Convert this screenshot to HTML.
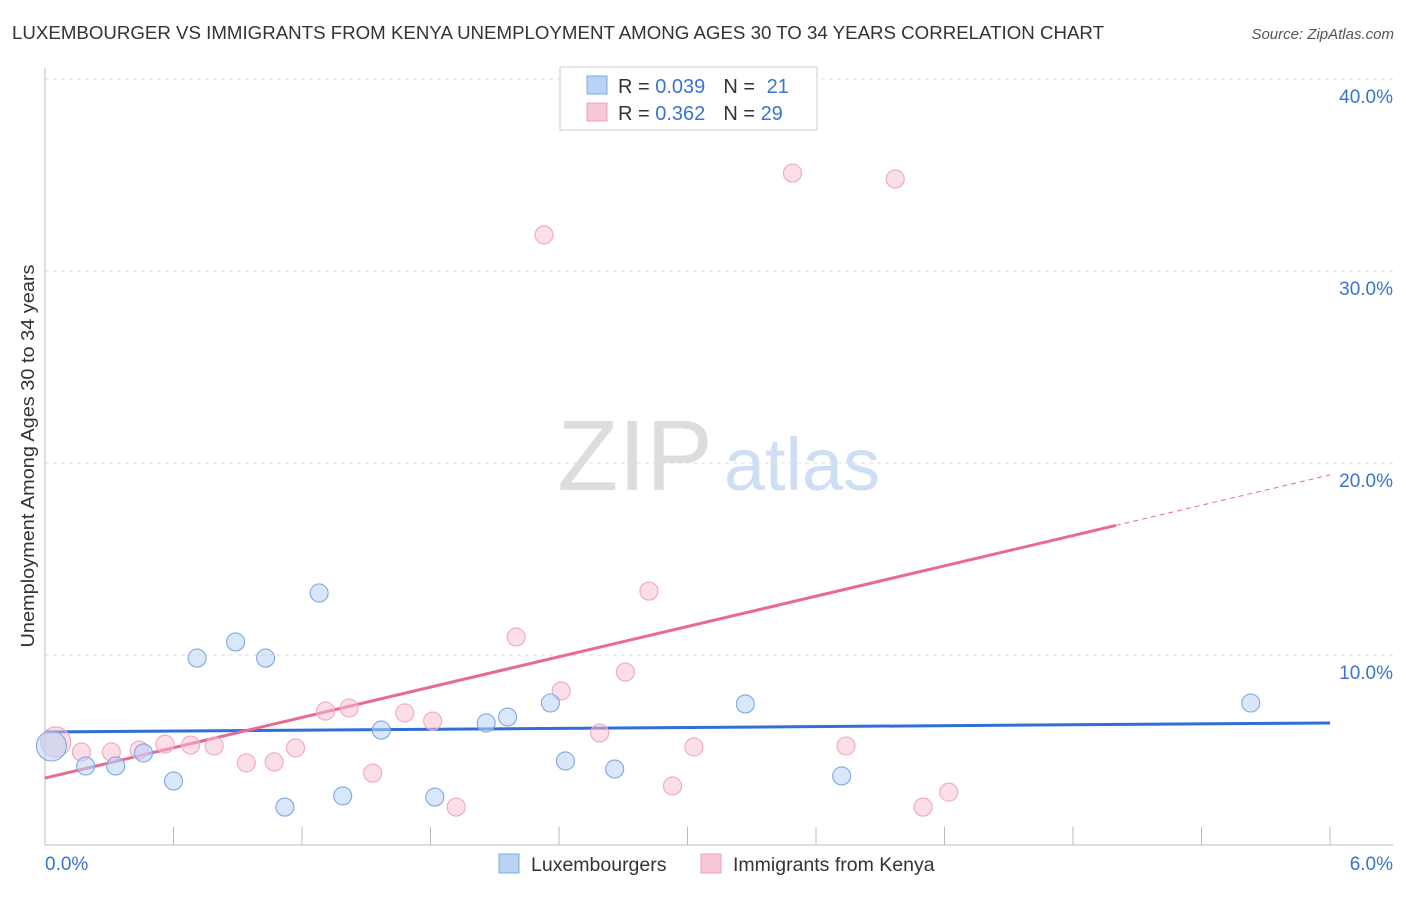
<!DOCTYPE html>
<html><head><meta charset="utf-8"><style>
body{margin:0;background:#fff;font-family:"Liberation Sans",sans-serif;}
svg text{font-family:"Liberation Sans",sans-serif;}
</style></head><body>
<svg id="chart" width="1406" height="892">
<text x="12" y="39" font-size="18.5" fill="#333" textLength="1092" lengthAdjust="spacingAndGlyphs">LUXEMBOURGER VS IMMIGRANTS FROM KENYA UNEMPLOYMENT AMONG AGES 30 TO 34 YEARS CORRELATION CHART</text>
<text x="1394" y="39" font-size="15" fill="#555" font-style="italic" text-anchor="end">Source: ZipAtlas.com</text>
<text x="34" y="456" font-size="18" fill="#333" text-anchor="middle" textLength="383" lengthAdjust="spacingAndGlyphs" transform="rotate(-90 34 456)">Unemployment Among Ages 30 to 34 years</text>
<g><text x="635" y="490" font-size="100" fill="#ddd" font-family="Liberation Serif" text-anchor="middle">ZIP</text><text x="802" y="490" font-size="74" fill="#cfdff3" text-anchor="middle">atlas</text></g>
<g id="grid"></g><g id="axes"></g><g id="lines"></g><g id="points"></g>
<g>
<rect x="560" y="67" width="257" height="63" fill="#fff" stroke="#ccc"/>
<rect x="587" y="76" width="20" height="18" fill="#b8d3f5" stroke="#7fa9e0"/>
<rect x="587" y="103" width="20" height="18" fill="#f9c8d6" stroke="#eea0b8"/>
<text x="618" y="93" font-size="20" fill="#333">R = <tspan fill="#3a73d0">0.039</tspan><tspan dx="18">N = </tspan><tspan fill="#3a73d0" dx="6">21</tspan></text>
<text x="618" y="120" font-size="20" fill="#333">R = <tspan fill="#3a73d0"> 0.362</tspan><tspan dx="18">N = </tspan><tspan fill="#3a73d0">29</tspan></text>
</g>
<g>
<rect x="499" y="854" width="20" height="19" fill="#b8d3f5" stroke="#7fa9e0"/>
<text x="531" y="871" font-size="19.5" fill="#333">Luxembourgers</text>
<rect x="701" y="854" width="20" height="19" fill="#f9c8d6" stroke="#eea0b8"/>
<text x="733" y="871" font-size="19.5" fill="#333">Immigrants from Kenya</text>
</g>
</svg>
<script>
const blueX=[0.03,0.19,0.33,0.46,0.60,0.71,0.89,1.03,1.12,1.28,1.39,1.57,1.82,2.06,2.16,2.36,2.43,2.66,3.27,3.72,5.63];
const blueY=[5.26,4.22,4.22,4.90,3.44,9.84,10.68,9.84,2.08,13.23,2.66,6.09,2.60,6.46,6.77,7.50,4.48,4.06,7.45,3.70,7.50];
const pinkX=[0.05,0.17,0.31,0.44,0.56,0.68,0.79,0.94,1.07,1.17,1.31,1.42,1.53,1.68,1.81,1.92,2.20,2.33,2.41,2.59,2.71,2.82,2.93,3.03,3.49,3.74,3.97,4.10,4.22];
const pinkY=[5.47,4.95,4.95,5.05,5.36,5.31,5.26,4.38,4.43,5.16,7.08,7.24,3.85,6.98,6.56,2.08,10.94,31.88,8.13,5.94,9.11,13.33,3.18,5.21,35.10,5.26,34.79,2.08,2.86];
const blueLine=[5.99,6.46];
const pinkLine=[3.59,19.38];
const pinkSolidEnd=5.0;
const yTicks=[10,20,30,40];
const xTickLabels=["0.0%","6.0%"];
const NS="http://www.w3.org/2000/svg";
const sx=v=>45+v/6*1285, sy=v=>847-v*19.2;
function mk(tag,attrs,parent){const e=document.createElementNS(NS,tag);for(const k in attrs)e.setAttribute(k,attrs[k]);document.getElementById(parent).appendChild(e);return e;}
yTicks.forEach(t=>{
 const l=mk('line',{x1:45,x2:1393,y1:sy(t),y2:sy(t),stroke:'#ddd','stroke-dasharray':'4,4'},'grid');
 
 
 const tx=mk('text',{x:1393,y:sy(t)+24,'font-size':19,fill:'#3a73d0','text-anchor':'end'},'grid');tx.textContent=t.toFixed(1)+'%';
 
 
});
let a=mk('line',{x1:45,x2:45,y1:68,y2:845,stroke:'#bbb'},'axes');


a=mk('line',{x1:45,x2:1393,y1:845,y2:845,stroke:'#bbb'},'axes');


for(let i=1;i<=10;i++){const t=mk('line',{x1:sx(i*0.6),x2:sx(i*0.6),y1:827,y2:845,stroke:'#bbb'},'axes');
 
 }
[[0,'start',45],[6,'end',1393]].forEach((d,i)=>{const t=mk('text',{x:d[2],y:870,'font-size':19,fill:'#3a73d0','text-anchor':d[1]},'axes');t.textContent=xTickLabels[i];
 
 });
function drawPts(X,Y,fill,stroke,name){X.forEach((x,i)=>{const r=i===0?15:9;const c=mk('circle',{cx:sx(x),cy:sy(Y[i]),r:r,fill:fill,stroke:stroke,'stroke-width':1.1},'points');
 
 });}
drawPts(pinkX,pinkY,'rgba(249,190,208,0.5)','#f0a8bf','point-kenya');
drawPts(blueX,blueY,'rgba(184,211,245,0.55)','#7ea8e3','point-luxembourger');
let l=mk('line',{x1:sx(0),y1:sy(blueLine[0]),x2:sx(6),y2:sy(blueLine[1]),stroke:'#2f6fd6','stroke-width':3},'lines');


const pAt=x=>pinkLine[0]+(pinkLine[1]-pinkLine[0])*x/6;
l=mk('line',{x1:sx(0),y1:sy(pinkLine[0]),x2:sx(pinkSolidEnd),y2:sy(pAt(pinkSolidEnd)),stroke:'#e86a93','stroke-width':3},'lines');


l=mk('line',{x1:sx(pinkSolidEnd),y1:sy(pAt(pinkSolidEnd)),x2:sx(6),y2:sy(pinkLine[1]),stroke:'#e86a93','stroke-width':1,'stroke-dasharray':'5,4'},'lines');


</script>
</body></html>
